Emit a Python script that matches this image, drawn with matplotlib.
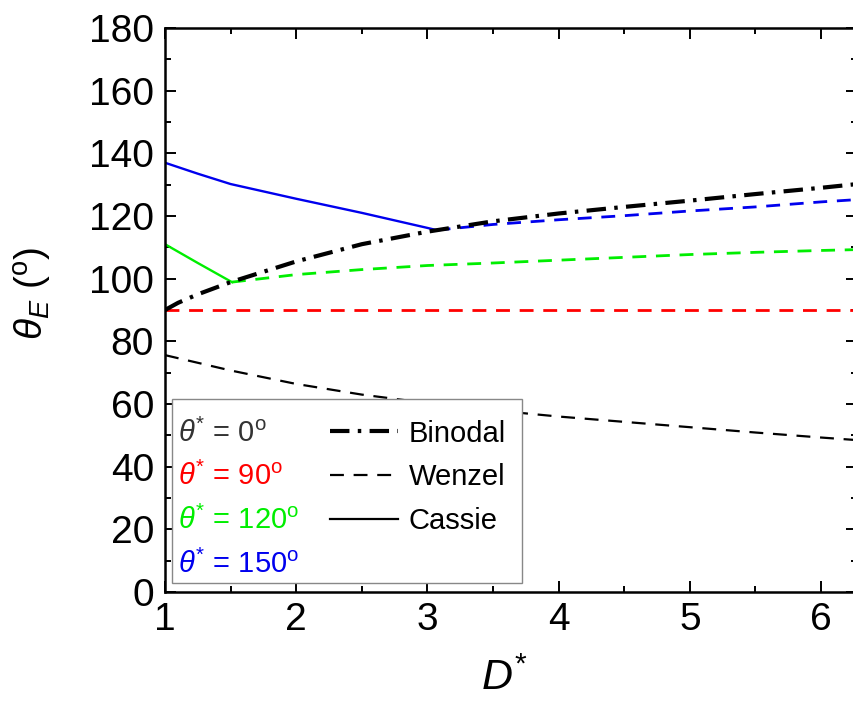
import numpy as np
import matplotlib
matplotlib.use("Agg")
import matplotlib.pyplot as plt
from matplotlib.patches import Rectangle

plt.rcParams['font.family'] = ['Liberation Sans', 'DejaVu Sans']
plt.rcParams['mathtext.fontset'] = 'custom'
plt.rcParams['mathtext.rm'] = 'Liberation Sans'
plt.rcParams['mathtext.it'] = 'Liberation Sans:italic'
plt.rcParams['lines.scale_dashes'] = False

# binodal curve
d_bin = [1.0, 1.1, 1.25, 1.5, 2.0, 2.5, 3.0, 3.5, 4.0, 4.5, 5.0, 5.5, 6.0, 6.3]
t_bin = [90.0, 92.3, 95.0, 98.9, 105.5, 111.0, 115.0, 118.3, 120.8, 122.9, 124.9, 127.0, 129.0, 130.3]

# wenzel, theta* = 0
d_w0 = [1.0, 1.5, 2.0, 2.5, 3.0, 3.5, 4.0, 4.5, 5.0, 5.5, 6.0, 6.3]
t_w0 = [75.6, 70.7, 66.4, 63.0, 60.3, 58.0, 56.0, 54.3, 52.6, 50.9, 49.3, 48.4]

# theta* = 90
d_90 = [1.0, 6.3]
t_90 = [90.0, 90.0]

# theta* = 120
d_c120 = [1.0, 1.25, 1.51]
t_c120 = [111.0, 105.0, 98.9]
d_w120 = [1.51, 2.0, 2.5, 3.0, 3.5, 4.0, 4.5, 5.0, 5.5, 6.0, 6.3]
t_w120 = [98.9, 101.3, 102.9, 104.2, 105.0, 105.9, 106.8, 107.7, 108.4, 109.0, 109.3]

# theta* = 150
d_c150 = [1.0, 1.25, 1.5, 2.0, 2.5, 3.0, 3.07]
t_c150 = [137.0, 133.5, 130.2, 125.5, 121.0, 116.2, 115.5]
d_w150 = [3.07, 3.5, 4.0, 4.5, 5.0, 5.5, 6.0, 6.3]
t_w150 = [115.5, 117.3, 118.8, 120.1, 121.6, 122.9, 124.5, 125.3]

legend_left = ['0', '90', '120', '150']
legend_cols = ['#333333', '#ff0000', '#00ee00', '#0000ee']
legend_right = ['Binodal', 'Wenzel', 'Cassie']

fig = plt.figure(figsize=(8.54, 7.06), dpi=100)
ax = fig.add_axes([165/854, 1-592/706, (857-165)/854, (592-28)/706])

dash = (10, 7)
dashdot = (14, 6, 2.5, 6)
ax.plot(d_90, t_90, color='#ff0000', lw=2.0, dashes=dash)
ax.plot(d_w0, t_w0, color='black', lw=1.6, dashes=dash)
ax.plot(d_w120, t_w120, color='#00ee00', lw=2.0, dashes=dash)
ax.plot(d_w150, t_w150, color='#0000ee', lw=2.0, dashes=dash)
ax.plot(d_c120, t_c120, color='#00ee00', lw=1.7)
ax.plot(d_c150, t_c150, color='#0000ee', lw=1.7)
ax.plot(d_bin, t_bin, color='black', lw=3.0, dashes=dashdot)

ax.set_xlim(1, 1 + (857-165)/131.2)
ax.set_ylim(0, 180)
ax.set_xticks([1, 2, 3, 4, 5, 6])
ax.set_xticks(np.arange(1.5, 6.3, 1.0), minor=True)
ax.set_yticks(np.arange(0, 181, 20))
ax.set_yticks(np.arange(10, 180, 20), minor=True)
ax.tick_params(which='both', direction='in', top=True, right=True, width=1.4, labelsize=28)
ax.tick_params(which='major', length=8)
ax.tick_params(which='minor', length=4.5)
ax.tick_params(axis='y', pad=8)
ax.tick_params(axis='x', pad=7)
for s in ax.spines.values():
    s.set_linewidth(1.8)

ax.set_xlabel(r'$D^{*}$', fontsize=31)
ax.set_ylabel(r'$\theta_E$ ($^{\mathrm{o}}$)', fontsize=28)
ax.xaxis.set_label_coords(0.49, -0.118)
ax.yaxis.set_label_coords(-0.16, 0.53)

# legend box drawn by hand
ax.add_patch(Rectangle((0.0101, 0.016), 0.5065, 0.326, transform=ax.transAxes,
                       facecolor='white', edgecolor='#888888', lw=1.0, zorder=5))
rows = [0.266, 0.1897, 0.1117, 0.0337]
for lab, col, y in zip(legend_left, legend_cols, rows):
    ax.text(0.0188, y, r'$\theta^{*}$ = ' + lab + r'$^{\mathrm{o}}$', color=col,
            fontsize=21, transform=ax.transAxes, va='baseline', ha='left', zorder=6)
hy = [0.2855, 0.2074, 0.1294]
styles = [dict(lw=3.0, dashes=dashdot), dict(lw=1.6, dashes=dash), dict(lw=1.6)]
for lab, y, y2, st in zip(legend_right, hy, rows, styles):
    ax.plot([0.2388, 0.3372], [y, y], color='black', transform=ax.transAxes,
            zorder=6, **st)
    ax.text(0.3517, y2, lab, fontsize=21, transform=ax.transAxes,
            va='baseline', ha='left', zorder=6)

fig.savefig('out.png', dpi=100)
